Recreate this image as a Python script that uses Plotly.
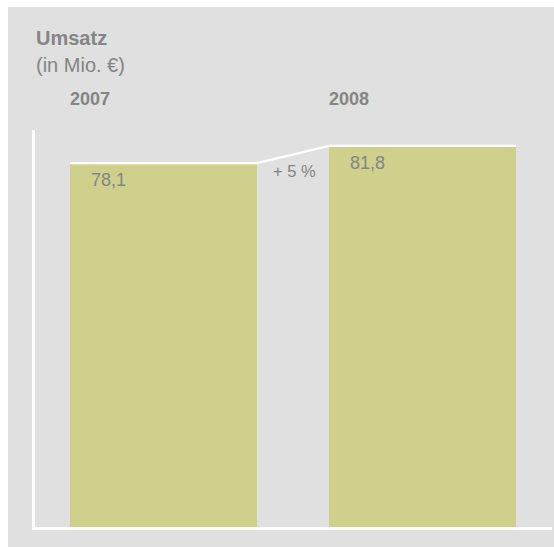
import plotly.graph_objects as go

years = ["2007", "2008"]
revenue = [78.1, 81.8]
value_labels = ["78,1", "81,8"]
change_label = "+ 5 %"
title_text = "Umsatz"
subtitle_text = "(in Mio. €)"

BAR_COLOR = "#cfd08b"
BG = "#dfe0df"
TXT = "#858585"
FONT = "Liberation Sans, Arial, sans-serif"

xpos = list(range(len(years)))
bw = 0.722

fig = go.Figure()
fig.add_trace(go.Bar(
    x=xpos, y=revenue, width=bw,
    marker=dict(color=BAR_COLOR, line=dict(width=0)),
    hoverinfo="skip", showlegend=False,
))

# white top edge + connector line
lx, ly = [], []
for xi, v in zip(xpos, revenue):
    lx += [xi - bw / 2, xi + bw / 2]
    ly += [v, v]
fig.add_trace(go.Scatter(
    x=lx, y=ly, mode="lines",
    line=dict(color="white", width=2.2),
    hoverinfo="skip", showlegend=False, cliponaxis=False,
))

H = 397.0
def py(p):
    return (527 - p) / H

annotations = [
    dict(text="<b>" + title_text + "</b>", xref="paper", yref="paper",
         x=0.0, y=py(38), xanchor="left", yanchor="middle", xshift=-1,
         font=dict(size=20, color=TXT, family=FONT), showarrow=False),
    dict(text=subtitle_text, xref="paper", yref="paper",
         x=0.0, y=py(65), xanchor="left", yanchor="middle", xshift=-1,
         font=dict(size=20, color=TXT, family=FONT), showarrow=False),
]
for xi, yr, v, lab in zip(xpos, years, revenue, value_labels):
    annotations.append(dict(
        text="<b>" + yr + "</b>", xref="x", yref="paper",
        x=xi - bw / 2, y=py(99), xanchor="left", yanchor="middle", xshift=-2,
        font=dict(size=18, color=TXT, family=FONT), showarrow=False))
    annotations.append(dict(
        text=lab, xref="x", yref="y",
        x=xi - bw / 2, y=v, xanchor="left", yanchor="top", xshift=19, yshift=-5,
        font=dict(size=18, color=TXT, family=FONT), showarrow=False))

annotations.append(dict(
    text=change_label, xref="x", yref="paper",
    x=(xpos[0] + xpos[1]) / 2, y=py(171), xanchor="center", yanchor="middle", xshift=2,
    font=dict(size=16.5, color=TXT, family=FONT), showarrow=False))

fig.update_layout(
    width=554, height=547,
    margin=dict(l=35, r=2, t=130, b=20),
    paper_bgcolor="white",
    plot_bgcolor="rgba(0,0,0,0)",
    bargap=0,
    xaxis=dict(range=[-0.4961, 1.5], showgrid=False, zeroline=False,
               showticklabels=False, ticks="", showline=True,
               linecolor="white", linewidth=3, fixedrange=True),
    yaxis=dict(range=[0, 85.2], showgrid=False, zeroline=False,
               showticklabels=False, ticks="", showline=True,
               linecolor="white", linewidth=2.5, fixedrange=True),
    shapes=[dict(type="rect", xref="paper", yref="paper",
                 x0=(8 - 35) / 517, x1=1.01, y0=-0.2, y1=py(7),
                 fillcolor=BG, line=dict(width=0), layer="below")],
    annotations=annotations,
)

fig.write_html("out.html", config={"displayModeBar": False})
